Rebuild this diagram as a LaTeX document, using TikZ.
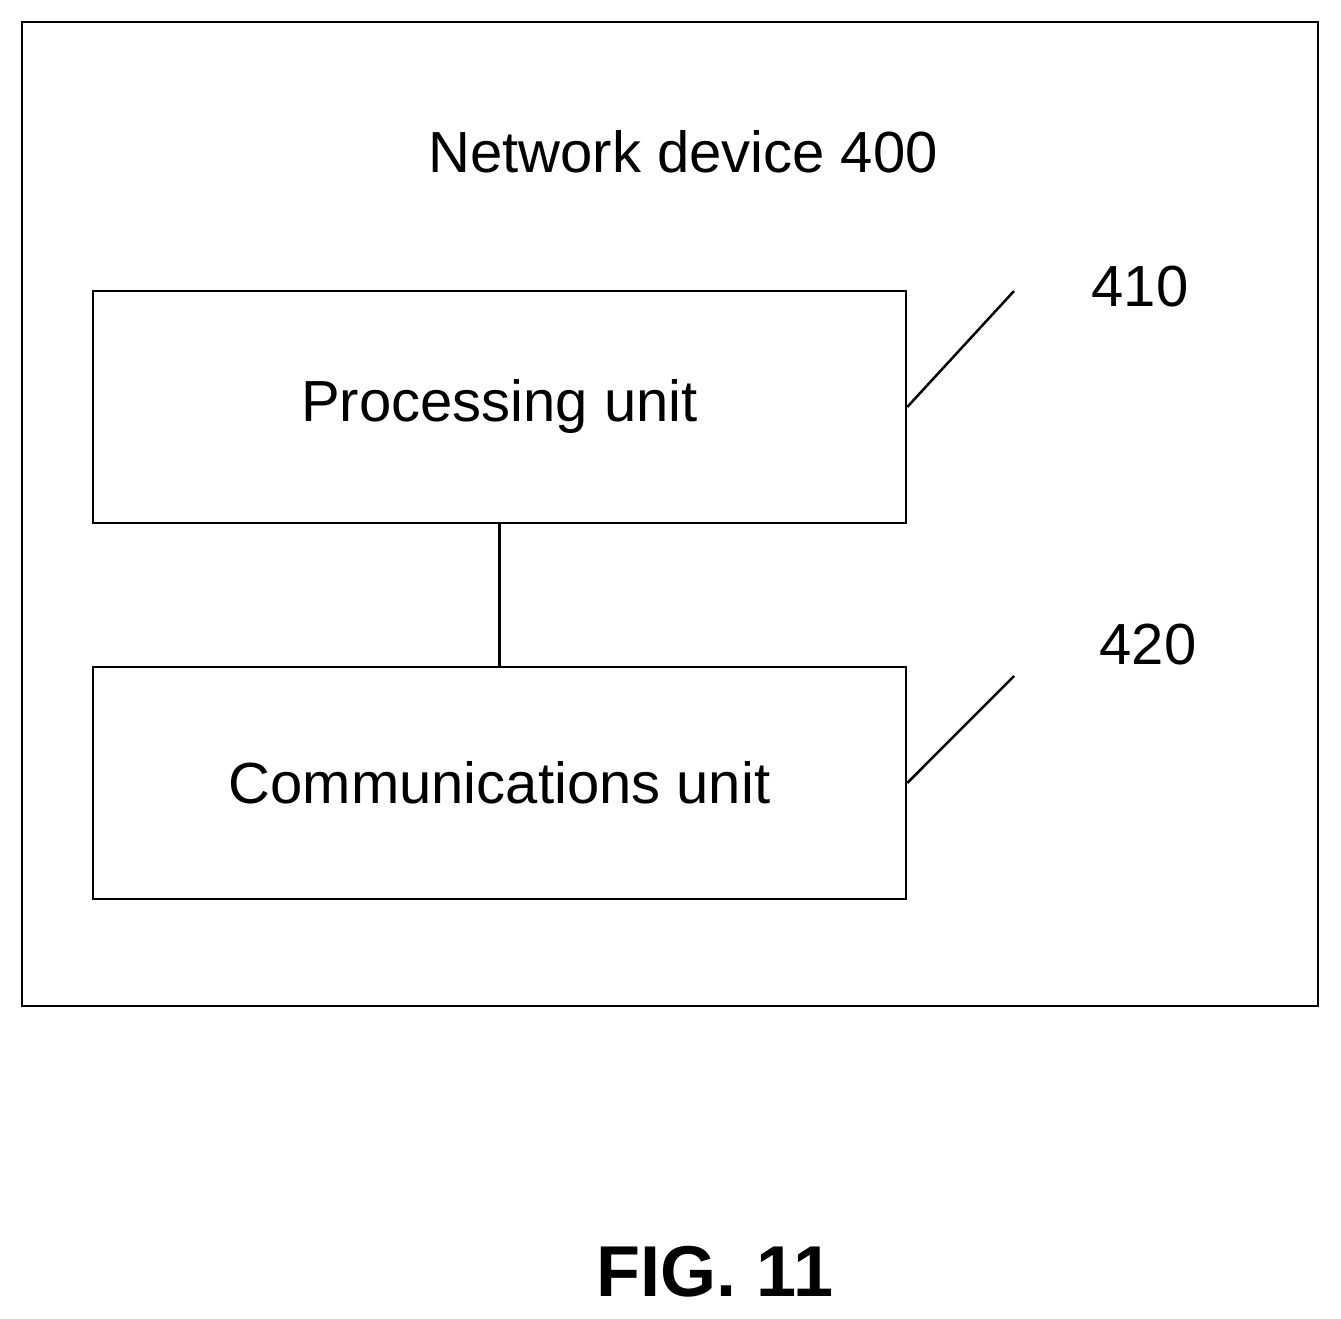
\documentclass[tikz,border=0pt]{standalone}
\usepackage{fontspec}
\setmainfont{Liberation Sans}
\begin{document}
\begin{tikzpicture}[x=1pt,y=-1pt,line width=2.5pt,
  lbl/.style={font=\fontsize{58}{61}\selectfont,inner sep=0pt},
  unit/.style={draw,minimum width=813pt,minimum height=232pt,lbl}]
\useasboundingbox (0,0) rectangle (1341,1319);
\node[draw,minimum width=1296pt,minimum height=984pt,inner sep=0pt] (outer) at (670,514) {};
\node[lbl] (title) at (683,152) {Network device 400};
\node[unit] (pu) at (499.5,407) {Processing unit};
\node[unit] (cu) at (499.5,783) {Communications unit};
\draw (pu.south) -- (cu.north);
\coordinate (a1) at (1014,291);
\coordinate (a2) at (1014,676);
\draw (pu.east) -- (a1);
\draw (cu.east) -- (a2);
\node[lbl] (l410) at (1140,287) {410};
\node[lbl] (l420) at (1148,645) {420};
\node[inner sep=0pt,font=\fontsize{72}{75}\selectfont\bfseries] (fig) at (715,1272) {FIG. 11};
\end{tikzpicture}
\end{document}
